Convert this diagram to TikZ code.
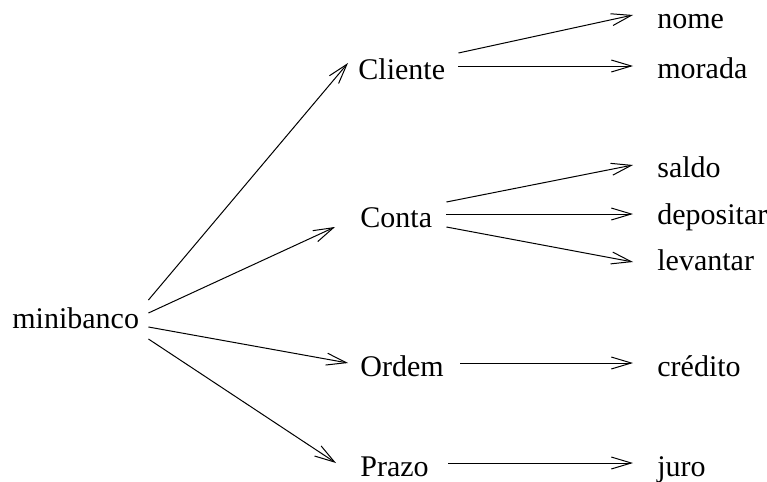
\documentclass[tikz,border=0pt]{standalone}
\usepackage{fontspec}
\setmainfont{Liberation Serif}
\usetikzlibrary{arrows.meta}

\begin{document}
\begin{tikzpicture}[x=0.5pt,y=-0.5pt,
        every node/.style={inner sep=0pt,anchor=base west,font=\fontsize{15}{18}\selectfont},
        seta/.style={line width=0.5pt,-{Straight Barb[length=10pt,width=6pt,line width=0.5pt]}}]

    \useasboundingbox (0,0) rectangle (767,482);

    % raiz e classes
    \node (minibanco) at (12,328)  {minibanco};
    \node (cliente)   at (358,79)  {Cliente};
    \node (conta)     at (360,227) {Conta};
    \node (ordem)     at (360,376) {Ordem};
    \node (prazo)     at (360,476) {Prazo};

    % metodos
    \node (nome)      at (657,28)  {nome};
    \node (morada)    at (657,78)  {morada};
    \node (saldo)     at (657,177) {saldo};
    \node (depositar) at (657,224) {depositar};
    \node (levantar)  at (657,270) {levantar};
    \node (credito)   at (657,376) {crédito};
    \node (juro)      at (657,476) {juro};

    \draw[seta] ([shift={(9,-28)}]minibanco.base east) -- ([shift={(-10,-16)}]cliente.base west);
    \draw[seta] ([shift={(9,-15)}]minibanco.base east) -- ([shift={(-25,0)}]conta.base west);
    \draw[seta] ([shift={(9,-1)}]minibanco.base east)  -- ([shift={(-12,-13)}]ordem.base west);
    \draw[seta] ([shift={(9,11)}]minibanco.base east)  -- ([shift={(-24,-13)}]prazo.base west);

    \draw[seta] ([shift={(13,-26)}]cliente.base east) -- ([shift={(-24,-13)}]nome.base west);
    \draw[seta] ([shift={(13,-13)}]cliente.base east) -- ([shift={(-24,-12)}]morada.base west);

    \draw[seta] ([shift={(14,-25)}]conta.base east) -- ([shift={(-24,-12)}]saldo.base west);
    \draw[seta] ([shift={(14,-13)}]conta.base east) -- ([shift={(-24,-10)}]depositar.base west);
    \draw[seta] ([shift={(14,0)}]conta.base east)   -- ([shift={(-24,-8)}]levantar.base west);

    \draw[seta] ([shift={(16,-13)}]ordem.base east) -- ([shift={(-24,-13)}]credito.base west);
    \draw[seta] ([shift={(19,-13)}]prazo.base east) -- ([shift={(-24,-13)}]juro.base west);
\end{tikzpicture}
\end{document}
